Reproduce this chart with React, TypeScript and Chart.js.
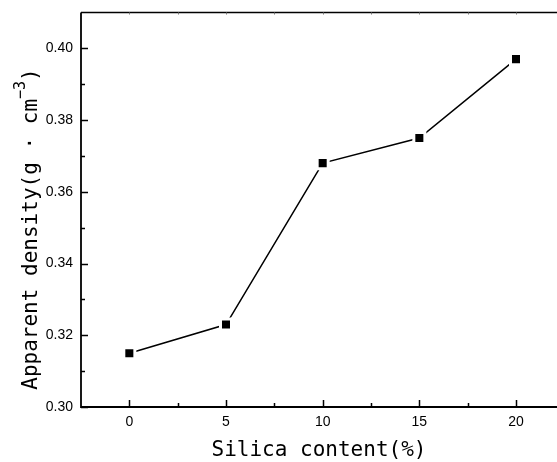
import React, { useEffect, useRef } from "react";
import { Chart, registerables } from "chart.js";

Chart.register(...registerables);

const silicaContent = [0, 5, 10, 15, 20];
const apparentDensity = [0.315, 0.323, 0.368, 0.375, 0.397];
const xTickValues = [0, 5, 10, 15, 20];
const xMinorTickValues = [2.5, 7.5, 12.5, 17.5];
const yTickValues = [0.3, 0.32, 0.34, 0.36, 0.38, 0.4];
const yTickLabels = ["0.30", "0.32", "0.34", "0.36", "0.38", "0.40"];
const yMinorTickValues = [0.31, 0.33, 0.35, 0.37, 0.39];
const xTitle = "Silica content(%)";
const yTitleMain = "Apparent density(g · cm";
const yTitleSup = "−3";
const yTitleEnd = ")";

const axesPlugin = {
  id: "originAxes",
  afterDatasetsDraw(chart: any) {
    const ctx = chart.ctx;
    const xs = chart.scales.x;
    const ys = chart.scales.y;
    const { left, right, top, bottom } = chart.chartArea;
    ctx.save();
    ctx.strokeStyle = "#000";
    ctx.fillStyle = "#000";

    // axis lines
    ctx.lineWidth = 1.8;
    ctx.beginPath();
    ctx.moveTo(left, top);
    ctx.lineTo(left, bottom);
    ctx.lineTo(right, bottom);
    ctx.stroke();
    ctx.lineWidth = 1.5;
    ctx.beginPath();
    ctx.moveTo(left, top);
    ctx.lineTo(right, top);
    ctx.stroke();

    // ticks
    ctx.lineWidth = 1.5;
    ctx.beginPath();
    xTickValues.forEach((v) => {
      const px = Math.round(xs.getPixelForValue(v)) + 0.5;
      ctx.moveTo(px, bottom);
      ctx.lineTo(px, bottom - 7);
    });
    xMinorTickValues.forEach((v) => {
      const px = Math.round(xs.getPixelForValue(v)) + 0.5;
      ctx.moveTo(px, bottom);
      ctx.lineTo(px, bottom - 4);
    });
    yTickValues.forEach((v) => {
      const py = Math.round(ys.getPixelForValue(v)) + 0.5;
      ctx.moveTo(left, py);
      ctx.lineTo(left + 7, py);
    });
    yMinorTickValues.forEach((v) => {
      const py = Math.round(ys.getPixelForValue(v)) + 0.5;
      ctx.moveTo(left, py);
      ctx.lineTo(left + 4, py);
    });
    ctx.stroke();

    // tiny top ticks
    ctx.strokeStyle = "#777";
    ctx.lineWidth = 1;
    ctx.beginPath();
    [...xTickValues, ...xMinorTickValues].forEach((v) => {
      const px = Math.round(xs.getPixelForValue(v)) + 0.5;
      ctx.moveTo(px, top);
      ctx.lineTo(px, top + 2);
    });
    ctx.stroke();

    // tick labels
    ctx.fillStyle = "#000";
    ctx.font = "14px 'Liberation Sans', Arial, sans-serif";
    ctx.textAlign = "center";
    ctx.textBaseline = "middle";
    xTickValues.forEach((v) => {
      ctx.fillText(String(v), xs.getPixelForValue(v), 422);
    });
    ctx.textAlign = "right";
    yTickValues.forEach((v, i) => {
      ctx.fillText(yTickLabels[i], left - 8, ys.getPixelForValue(v));
    });

    // x title
    ctx.font = "21px 'DejaVu Sans Mono', monospace";
    ctx.textAlign = "center";
    ctx.textBaseline = "middle";
    ctx.fillText(xTitle, (left + right) / 2, 451);

    // y title (rotated, with superscript)
    const mainFont = "21px 'DejaVu Sans Mono', monospace";
    const supFont = "15px 'DejaVu Sans Mono', monospace";
    ctx.font = mainFont;
    const wMain = ctx.measureText(yTitleMain).width;
    const wEnd = ctx.measureText(yTitleEnd).width;
    ctx.font = supFont;
    const wSup = ctx.measureText(yTitleSup).width;
    const total = wMain + wSup + wEnd;
    const centerY = 229;
    ctx.translate(37, centerY + total / 2);
    ctx.rotate(-Math.PI / 2);
    ctx.textAlign = "left";
    ctx.textBaseline = "alphabetic";
    ctx.font = mainFont;
    ctx.fillText(yTitleMain, 0, 0);
    ctx.font = supFont;
    ctx.fillText(yTitleSup, wMain, -12);
    ctx.font = mainFont;
    ctx.fillText(yTitleEnd, wMain + wSup, 0);
    ctx.restore();
  },
};

export default function App() {
  const canvasRef = useRef<HTMLCanvasElement | null>(null);

  useEffect(() => {
    const canvas = canvasRef.current;
    if (!canvas) return;
    const chart = new Chart(canvas, {
      type: "line",
      data: {
        datasets: [
          {
            data: silicaContent.map((x, i) => ({ x, y: apparentDensity[i] })),
            borderColor: "#000",
            borderWidth: 1.5,
            backgroundColor: "#000",
            pointStyle: "rect",
            pointRadius: 7.8,
            pointBackgroundColor: "#000",
            pointBorderColor: "#fff",
            pointBorderWidth: 3,
            tension: 0,
            fill: false,
          },
        ],
      },
      options: {
        animation: false,
        responsive: false,
        maintainAspectRatio: false,
        events: [],
        layout: { autoPadding: false, padding: { left: 81, right: 0, top: 12.5, bottom: 55 } },
        plugins: {
          legend: { display: false },
          tooltip: { enabled: false },
          title: { display: false },
        },
        scales: {
          x: { type: "linear", min: -2.5, max: 22.12, display: false },
          y: { type: "linear", min: 0.3, max: 0.41, display: false },
        },
      },
      plugins: [axesPlugin],
    });
    return () => chart.destroy();
  }, []);

  return (
    <div
      style={{
        position: "fixed",
        left: 0,
        top: 0,
        width: 557,
        height: 462,
        background: "#fff",
        overflow: "hidden",
      }}
    >
      <canvas ref={canvasRef} width={557} height={462} style={{ display: "block" }} />
    </div>
  );
}
